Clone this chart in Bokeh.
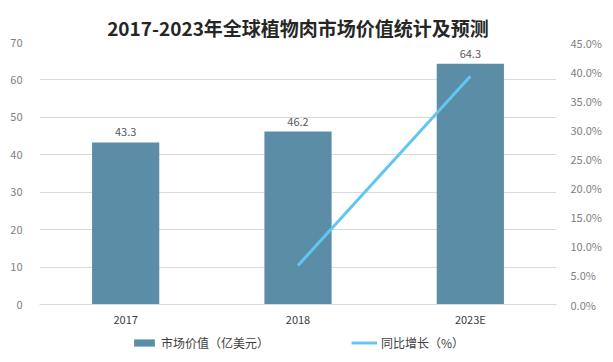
from bokeh.plotting import figure
from bokeh.layouts import column
from bokeh.models import (FactorRange, Range1d, LinearAxis, FixedTicker, PrintfTickFormatter,
                          Legend, LegendItem, ColumnDataSource)
from bokeh.core.properties import value
from bokeh.embed import file_html
from bokeh.resources import INLINE

title = "2017-2023年全球植物肉市场价值统计及预测"
categories = ["2017", "2018", "2023E"]
market_value = [43.3, 46.2, 64.3]
growth_cats = ["2018", "2023E"]
growth_pct = [6.7, 39.2]
left_ticks = [0, 10, 20, 30, 40, 50, 60, 70]
right_ticks = [0, 5, 10, 15, 20, 25, 30, 35, 40, 45]
bar_label = "市场价值（亿美元）"
line_label = "同比增长（%）"

FONT = "Noto Sans CJK SC"
BAR_COLOR = "#5B8EA6"
LINE_COLOR = "#62C6F2"

p = figure(width=605, height=330, output_backend="svg", toolbar_location=None,
           x_range=FactorRange(factors=categories), y_range=Range1d(0, 70),
           min_border_left=39, min_border_right=47, min_border_top=42, min_border_bottom=26)
p.extra_y_ranges = {"pct": Range1d(0, 45)}
p.outline_line_color = None

p.title.text = title
p.title.align = "center"
p.title.text_font = FONT
p.title.text_font_size = "19px"
p.title.text_font_style = "bold"
p.title.text_color = "#262626"
p.title.standoff = 4

src = ColumnDataSource(dict(x=categories, y=market_value, lbl=[f"{v:.1f}" for v in market_value]))
bars = p.vbar(x="x", top="y", width=0.39, source=src, color=BAR_COLOR, line_color=None)
p.text(x="x", y="y", text="lbl", source=src, y_offset=-6, text_align="center", text_baseline="bottom",
       text_font=value(FONT), text_font_size="11px", text_color="#595959")

line = p.line(x=growth_cats, y=growth_pct, y_range_name="pct", line_color=LINE_COLOR, line_width=3)

# axes
p.yaxis.ticker = FixedTicker(ticks=left_ticks)
p.yaxis.axis_line_color = None
p.yaxis.major_tick_line_color = None
p.yaxis.minor_tick_line_color = None
p.yaxis.major_label_text_color = "#7f7f7f"
p.yaxis.major_label_text_font = FONT
p.yaxis.major_label_text_font_size = "11px"
p.yaxis.major_label_standoff = 11

ra = LinearAxis(y_range_name="pct", ticker=FixedTicker(ticks=right_ticks),
                formatter=PrintfTickFormatter(format="%.1f%%"))
ra.axis_line_color = None
ra.major_tick_line_color = None
ra.minor_tick_line_color = None
ra.major_label_text_color = "#7f7f7f"
ra.major_label_text_font = FONT
ra.major_label_text_font_size = "11px"
ra.major_label_standoff = 8
p.add_layout(ra, "right")

p.xaxis.axis_line_color = "#d9d9d9"
p.xaxis.major_tick_line_color = None
p.xaxis.minor_tick_line_color = None
p.xaxis.major_label_text_color = "#404040"
p.xaxis.major_label_text_font = FONT
p.xaxis.major_label_text_font_size = "11px"
p.xaxis.major_label_standoff = 0

p.xgrid.grid_line_color = None
p.ygrid.grid_line_color = "#d9d9d9"

# legend strip (its renderers are hidden; only the legend entries show)
q = figure(width=605, height=24, output_backend="svg", toolbar_location=None,
           x_range=FactorRange(factors=categories), y_range=Range1d(-1000, -999),
           x_axis_type=None, y_axis_type=None, min_border=0)
q.outline_line_color = None
q.grid.visible = False
lb = q.vbar(x=categories, top=market_value, width=0.39, color=BAR_COLOR, line_color=None)
ll = q.line(x=growth_cats, y=growth_pct, line_color=LINE_COLOR, line_width=3)
lb.visible = False
ll.visible = False
legend = Legend(items=[LegendItem(label=bar_label, renderers=[lb]),
                       LegendItem(label=line_label, renderers=[ll])],
                orientation="horizontal", location=(92, 3), border_line_color=None,
                label_text_font=FONT, label_text_font_size="12px", label_text_color="#404040",
                glyph_width=26, glyph_height=9, spacing=82, padding=0, margin=0,
                label_standoff=4, background_fill_alpha=0, inactive_fill_alpha=0)
q.add_layout(legend)

layout = column(p, q, spacing=0)
open("out.html", "w").write(file_html(layout, INLINE))
